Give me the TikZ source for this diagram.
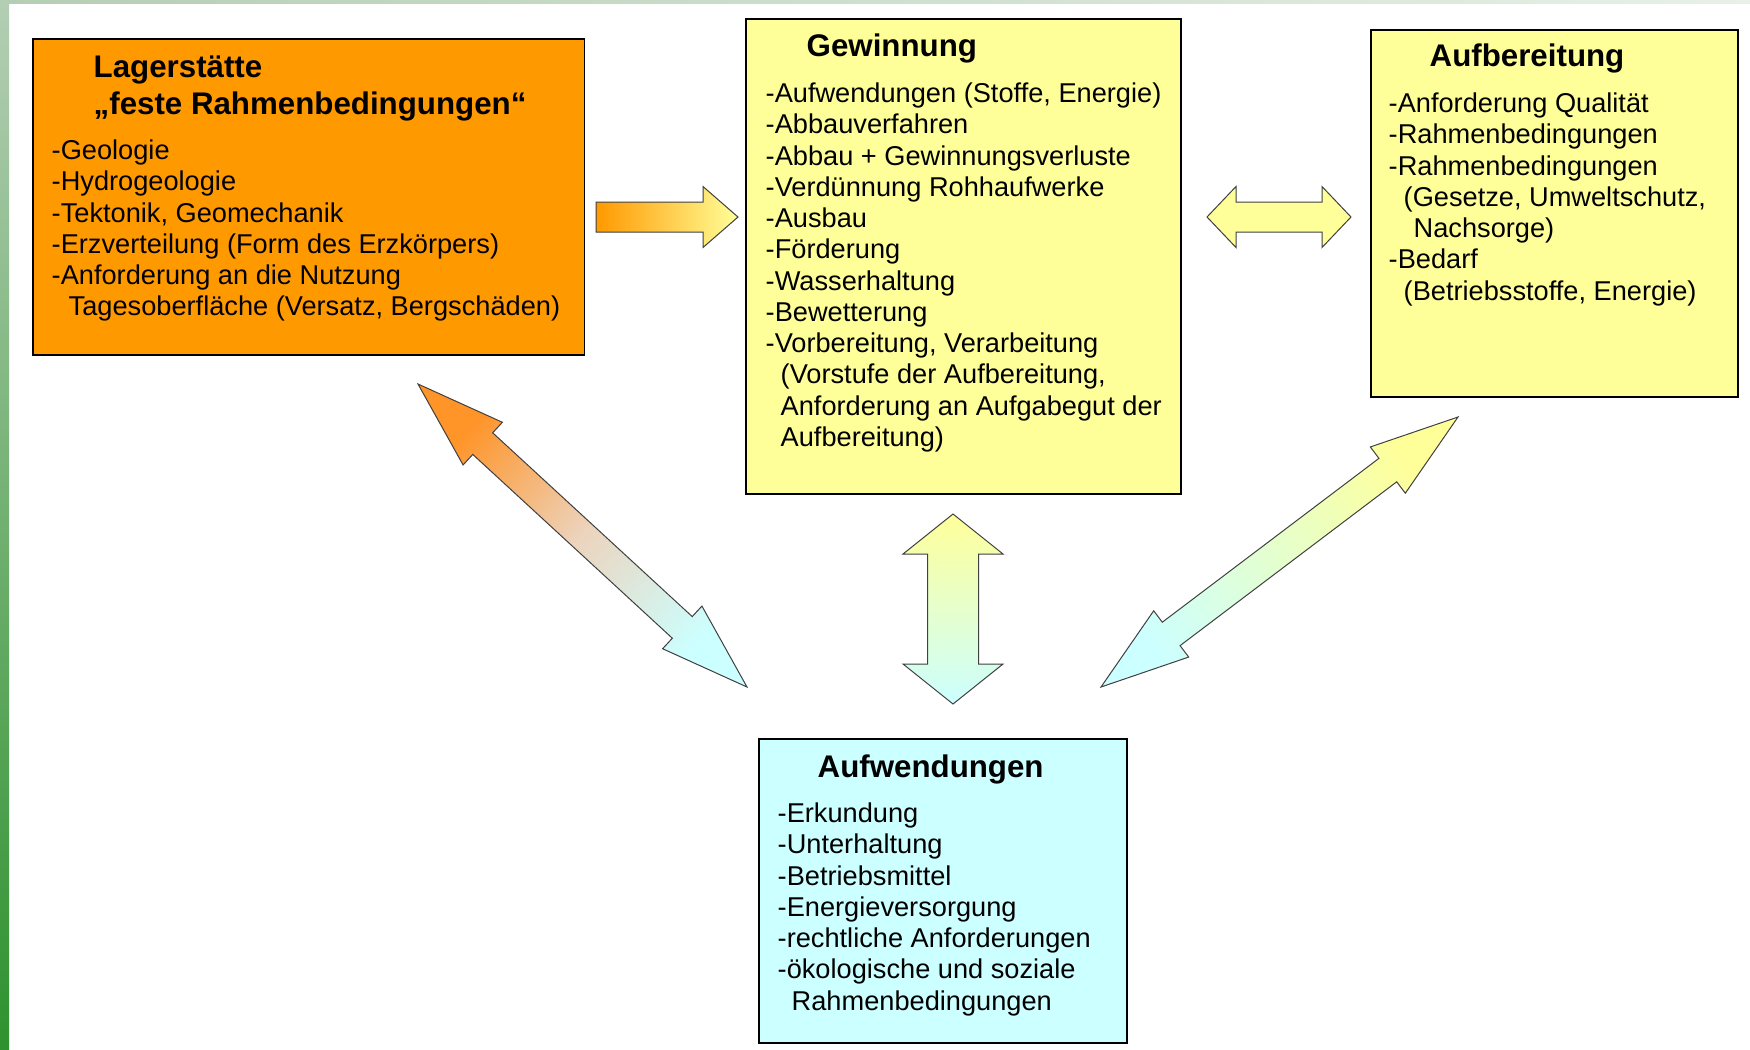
\documentclass[tikz,border=0pt]{standalone}
\usepackage{fontspec}
\setmainfont{Liberation Sans}
\usetikzlibrary{calc}
\definecolor{kastorange}{RGB}{255,153,0}
\definecolor{kastyellow}{RGB}{255,255,153}
\definecolor{kastcyan}{RGB}{204,255,255}
\definecolor{pfeilorange}{RGB}{255,148,40}
\definecolor{pfeilmitte}{RGB}{236,212,190}
\definecolor{randhell}{RGB}{180,206,180}
\definecolor{randdunkel}{RGB}{46,146,46}
\definecolor{randweiss}{RGB}{232,240,232}
\tikzset{
  kasten/.style={draw=black,line width=0.15mm,anchor=north west,inner sep=0pt},
  kopf/.style={anchor=base west,inner sep=0pt,font=\fontsize{8.9pt}{10pt}\selectfont\bfseries},
  punkt/.style={anchor=base west,inner sep=0pt,font=\fontsize{7.74pt}{9pt}\selectfont},
  pfeil/.style={draw=black!75,line width=0.1mm,line join=miter}
}
% #2,#3 Enden, #4 Kopflaenge, #5 halbe Kopfbreite, #6 halbe Schaftbreite
\newcommand{\doppelpfeil}[6][]{%
  \path[pfeil,#1] (#2)
    --($(#2)!#4!(#3)!#5!90:(#3)$) --($(#2)!#4!(#3)!#6!90:(#3)$)
    --($(#3)!#4!(#2)!#6!-90:(#2)$) --($(#3)!#4!(#2)!#5!-90:(#2)$)
    --(#3)
    --($(#3)!#4!(#2)!#5!90:(#2)$) --($(#3)!#4!(#2)!#6!90:(#2)$)
    --($(#2)!#4!(#3)!#6!-90:(#3)$) --($(#2)!#4!(#3)!#5!-90:(#3)$)
    --cycle;}
\newcommand{\einzelpfeil}[6][]{%
  \path[pfeil,#1] ($(#2)!#6!90:(#3)$)
    --($(#3)!#4!(#2)!#6!-90:(#2)$) --($(#3)!#4!(#2)!#5!-90:(#2)$)
    --(#3)
    --($(#3)!#4!(#2)!#5!90:(#2)$) --($(#3)!#4!(#2)!#6!90:(#2)$)
    --($(#2)!#6!-90:(#3)$) --cycle;}

\begin{document}
\begin{tikzpicture}[x=0.1mm,y=-0.1mm]
  \useasboundingbox (0,0) rectangle (1750,1049);
  \fill[white] (0,0) rectangle (1750,1049);
  \shade[left color=randhell,right color=randweiss] (0,0) rectangle (1750,3);
  \shade[top color=randhell,bottom color=randdunkel] (0,0) rectangle (9,1049);

  \node[kasten,fill=kastorange,minimum width=55.2mm,minimum height=31.6mm] (lager) at (32,38) {};
  \node[kasten,fill=kastyellow,minimum width=43.5mm,minimum height=47.5mm] (gewinnung) at (745,18) {};
  \node[kasten,fill=kastyellow,minimum width=36.7mm,minimum height=36.7mm] (aufbereitung) at (1370,29) {};
  \node[kasten,fill=kastcyan,minimum width=36.8mm,minimum height=30.4mm] (aufwendungen) at (758,738) {};

  \node[kopf] (lager-t1) at (93,77) {Lagerstätte};
  \node[kopf] (lager-t2) at (93,114) {„feste Rahmenbedingungen“};
  \node[punkt] (lager-1) at (51,159) {-Geologie};
  \node[punkt] (lager-2) at (51,190) {-Hydrogeologie};
  \node[punkt] (lager-3) at (51,222) {-Tektonik, Geomechanik};
  \node[punkt] (lager-4) at (51,253) {-Erzverteilung (Form des Erzkörpers)};
  \node[punkt] (lager-5) at (51,284) {-Anforderung an die Nutzung};
  \node[punkt] (lager-6) at (68,315) {Tagesoberfläche (Versatz, Bergschäden)};

  \node[kopf] (gew-t) at (806,56) {Gewinnung};
  \node[punkt] (gew-1) at (765,102) {-Aufwendungen (Stoffe, Energie)};
  \node[punkt] (gew-2) at (765,133) {-Abbauverfahren};
  \node[punkt] (gew-3) at (765,165) {-Abbau + Gewinnungsverluste};
  \node[punkt] (gew-4) at (765,196) {-Verdünnung Rohhaufwerke};
  \node[punkt] (gew-5) at (765,227) {-Ausbau};
  \node[punkt] (gew-6) at (765,258) {-Förderung};
  \node[punkt] (gew-7) at (765,290) {-Wasserhaltung};
  \node[punkt] (gew-8) at (765,321) {-Bewetterung};
  \node[punkt] (gew-9) at (765,352) {-Vorbereitung, Verarbeitung};
  \node[punkt] (gew-10) at (780,383) {(Vorstufe der Aufbereitung,};
  \node[punkt] (gew-11) at (780,415) {Anforderung an Aufgabegut der};
  \node[punkt] (gew-12) at (780,446) {Aufbereitung)};

  \node[kopf] (aufb-t) at (1429,66) {Aufbereitung};
  \node[punkt] (aufb-1) at (1388,112) {-Anforderung Qualität};
  \node[punkt] (aufb-2) at (1388,143) {-Rahmenbedingungen};
  \node[punkt] (aufb-3) at (1388,175) {-Rahmenbedingungen};
  \node[punkt] (aufb-4) at (1403,206) {(Gesetze, Umweltschutz,};
  \node[punkt] (aufb-5) at (1413,237) {Nachsorge)};
  \node[punkt] (aufb-6) at (1388,268) {-Bedarf};
  \node[punkt] (aufb-7) at (1403,300) {(Betriebsstoffe, Energie)};

  \node[kopf] (aufw-t) at (817,777) {Aufwendungen};
  \node[punkt] (aufw-1) at (777,822) {-Erkundung};
  \node[punkt] (aufw-2) at (777,853) {-Unterhaltung};
  \node[punkt] (aufw-3) at (777,885) {-Betriebsmittel};
  \node[punkt] (aufw-4) at (777,916) {-Energieversorgung};
  \node[punkt] (aufw-5) at (777,947) {-rechtliche Anforderungen};
  \node[punkt] (aufw-6) at (777,978) {-ökologische und soziale};
  \node[punkt] (aufw-7) at (791,1010) {Rahmenbedingungen};

  \coordinate (lg-a) at (596,217);
  \coordinate (lg-b) at (738,217);
  \coordinate (ga-a) at (1207,217);
  \coordinate (ga-b) at (1351,217);
  \coordinate (gw-a) at (953,514);
  \coordinate (gw-b) at (953,704);
  \coordinate (lw-a) at (418,384);
  \coordinate (lw-b) at (747,687);
  \coordinate (aw-a) at (1101,687);
  \coordinate (aw-b) at (1458,417);

  \einzelpfeil[left color=kastorange,right color=kastyellow]{lg-a}{lg-b}{3.5mm}{3.05mm}{1.5mm}
  \doppelpfeil[fill=kastyellow]{ga-a}{ga-b}{2.9mm}{3.05mm}{1.5mm}
  \doppelpfeil[top color=kastyellow,bottom color=kastcyan]{gw-a}{gw-b}{4mm}{5mm}{2.55mm}
  \doppelpfeil[top color=pfeilorange,bottom color=kastcyan,middle color=pfeilmitte,shading angle=47.4]{lw-a}{lw-b}{8.8mm}{2.9mm}{1.47mm}
  \doppelpfeil[top color=kastyellow,bottom color=kastcyan,shading angle=-52.9]{aw-b}{aw-a}{8.8mm}{2.9mm}{1.47mm}
\end{tikzpicture}
\end{document}
